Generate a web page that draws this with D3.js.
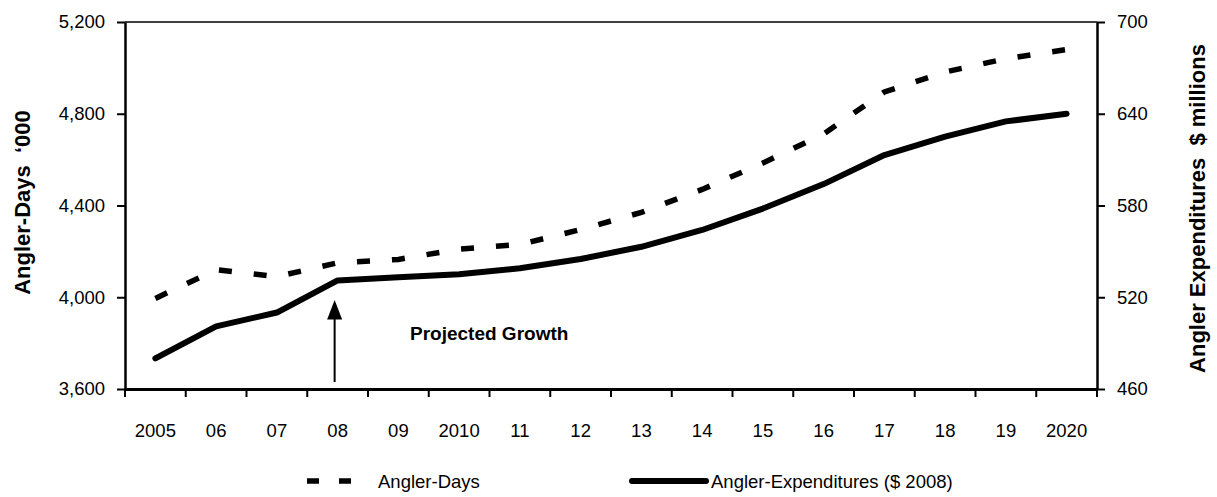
<!DOCTYPE html>
<html>
<head>
<meta charset="utf-8">
<script src="https://cdn.jsdelivr.net/npm/d3@7"></script>
<style>
  body { margin: 0; background: #fff; }
  svg { display: block; font-family: "Liberation Sans", Arial, sans-serif; }
</style>
</head>
<body>
<svg id="chart"></svg>
<script>
// data
const years = ["2005", "06", "07", "08", "09", "2010", "11", "12", "13", "14", "15", "16", "17", "18", "19", "2020"];
const anglerDays = [3995, 4120, 4090, 4150, 4165, 4210, 4230, 4295, 4370, 4470, 4585, 4712, 4895, 4982, 5040, 5080];
const anglerExp = [480, 501, 510, 531, 533, 535, 539, 545, 553, 564, 578, 594, 613, 625, 635, 640];
const leftTicks = [3600, 4000, 4400, 4800, 5200];
const rightTicks = [460, 520, 580, 640, 700];
const seriesNames = ["Angler-Days", "Angler-Expenditures ($ 2008)"];

const width = 1217, height = 497;
const marginTop = 22, marginRight = 120, marginBottom = 108, marginLeft = 125;

const svg = d3.select("#chart")
    .attr("width", width)
    .attr("height", height);

// scales
const x = d3.scaleBand()
    .domain(years)
    .range([marginLeft, width - marginRight])
    .padding(0);

const yLeft = d3.scaleLinear()
    .domain([3600, 5200])
    .range([height - marginBottom, marginTop]);

const yRight = d3.scaleLinear()
    .domain([460, 700])
    .range([height - marginBottom, marginTop]);

const cx = d => x(d) + x.bandwidth() / 2;

// top border
svg.append("line")
    .attr("x1", marginLeft).attr("x2", width - marginRight)
    .attr("y1", marginTop).attr("y2", marginTop)
    .attr("stroke", "#000").attr("stroke-width", 1.5);

// left axis
const gLeft = svg.append("g")
    .attr("transform", `translate(${marginLeft},0)`)
    .call(d3.axisLeft(yLeft).tickValues(leftTicks).tickFormat(d3.format(",")).tickSize(8).tickSizeOuter(0).tickPadding(12));

// right axis
const gRight = svg.append("g")
    .attr("transform", `translate(${width - marginRight},0)`)
    .call(d3.axisRight(yRight).tickValues(rightTicks).tickSize(8).tickSizeOuter(0).tickPadding(12));

// bottom axis : labels centred in bands, ticks on band edges
const gBottom = svg.append("g")
    .attr("transform", `translate(0,${height - marginBottom})`)
    .call(d3.axisBottom(x).tickSize(0).tickSizeOuter(0).tickPadding(48));

gBottom.selectAll(".edge")
    .data(years.map(d => x(d)).concat([width - marginRight]))
    .enter().append("line")
    .attr("class", "edge")
    .attr("x1", d => d).attr("x2", d => d)
    .attr("y1", 0).attr("y2", 8)
    .attr("stroke", "#000").attr("stroke-width", 2);

[gLeft, gRight, gBottom].forEach(g => {
    g.selectAll("text")
        .attr("font-family", "'Liberation Sans', Arial, sans-serif")
        .attr("font-size", 18.5)
        .attr("fill", "#000");
    g.selectAll(".tick line").attr("stroke", "#000").attr("stroke-width", 2);
});
gLeft.select(".domain").attr("stroke", "#000").attr("stroke-width", 2.5);
gRight.select(".domain").attr("stroke", "#000").attr("stroke-width", 2.5);
gBottom.select(".domain").attr("stroke", "#000").attr("stroke-width", 3);
gBottom.selectAll(".tick text").attr("dy", "0");

// axis titles
svg.append("text")
    .attr("transform", `translate(22,${(marginTop + height - marginBottom) / 2 - 3}) rotate(-90)`)
    .attr("text-anchor", "middle")
    .attr("dominant-baseline", "central")
    .attr("font-size", 22)
    .attr("font-weight", "bold")
    .text("Angler-Days\u00A0\u00A0\u2018000");

svg.append("text")
    .attr("transform", `translate(1197,${(marginTop + height - marginBottom) / 2 + 3}) rotate(-90)`)
    .attr("text-anchor", "middle")
    .attr("dominant-baseline", "central")
    .attr("font-size", 22)
    .attr("font-weight", "bold")
    .text("Angler Expenditures\u00A0\u00A0$ millions");

// lines
const lineDays = d3.line()
    .x((d, i) => cx(years[i]))
    .y(d => yLeft(d));

const lineExp = d3.line()
    .x((d, i) => cx(years[i]))
    .y(d => yRight(d));

svg.append("path")
    .datum(anglerDays)
    .attr("fill", "none")
    .attr("stroke", "#000")
    .attr("stroke-width", 5.5)
    .attr("stroke-dasharray", "13,22")
    .attr("d", lineDays);

svg.append("path")
    .datum(anglerExp)
    .attr("fill", "none")
    .attr("stroke", "#000")
    .attr("stroke-width", 6)
    .attr("stroke-linecap", "round")
    .attr("stroke-linejoin", "round")
    .attr("d", lineExp);

// annotation: arrow + label
const ax = cx("08") - 3;
svg.append("line")
    .attr("x1", ax).attr("x2", ax)
    .attr("y1", 382).attr("y2", 316)
    .attr("stroke", "#000").attr("stroke-width", 2);
svg.append("path")
    .attr("d", `M${ax},300 L${ax - 7.5},319.5 L${ax + 7.5},319.5 Z`)
    .attr("fill", "#000");
svg.append("text")
    .attr("x", 410).attr("y", 340)
    .attr("font-size", 19)
    .attr("font-weight", "bold")
    .text("Projected Growth");

// legend
const legendY = 481;
svg.append("line")
    .attr("x1", 307).attr("x2", 351)
    .attr("y1", legendY).attr("y2", legendY)
    .attr("stroke", "#000").attr("stroke-width", 5.5)
    .attr("stroke-dasharray", "12,20");
svg.append("text")
    .attr("x", 378).attr("y", legendY)
    .attr("dominant-baseline", "central")
    .attr("font-size", 18.5)
    .text(seriesNames[0]);

svg.append("line")
    .attr("x1", 632).attr("x2", 706)
    .attr("y1", legendY).attr("y2", legendY)
    .attr("stroke", "#000").attr("stroke-width", 6)
    .attr("stroke-linecap", "round");
svg.append("text")
    .attr("x", 711).attr("y", legendY)
    .attr("dominant-baseline", "central")
    .attr("font-size", 18.5)
    .text(seriesNames[1]);
</script>
</body>
</html>
